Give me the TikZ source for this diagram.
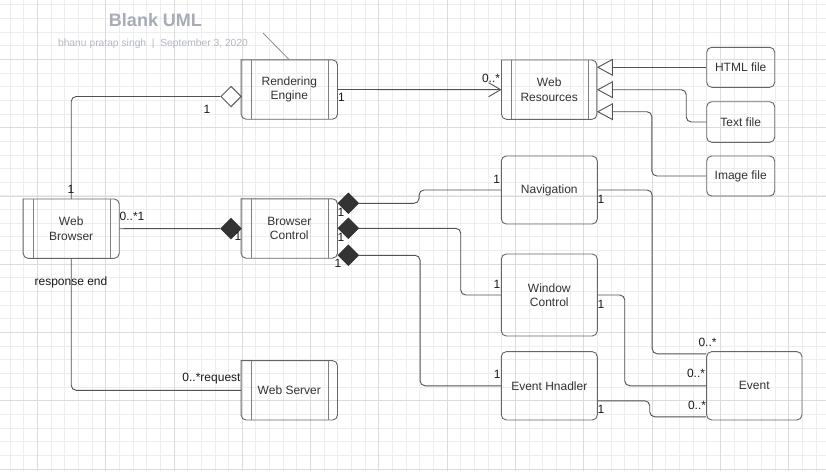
\documentclass[tikz,border=0pt]{standalone}
\usepackage{fontspec}
\setmainfont{Liberation Sans}
\usepackage{xcolor}
\usetikzlibrary{shapes.geometric,arrows.meta}
\definecolor{titlegray}{HTML}{A7ACB7}
\definecolor{subgray}{HTML}{B3B8C1}

\begin{document}
\begin{tikzpicture}[x=1pt,y=-1pt]
        \tikzset{gridminor/.style={draw=black!7,line width=0.8pt},
            gridmajor/.style={draw=black!14,line width=0.8pt},
            cls/.style={minimum width=96pt,minimum height=59pt,inner sep=0pt,align=center,
                text=black!80,font=\fontsize{12}{14.4}\selectfont},
            plain/.style={cls,draw=black!60,line width=0.9pt,rounded corners=5pt},
            conn/.style={draw=black!68,line width=0.9pt,rounded corners=5pt},
            agg/.style={diamond,draw=black!65,line width=0.9pt,fill=white,
                minimum width=20.6pt,minimum height=20.6pt,inner sep=0pt},
            comp/.style={agg,fill=black!80,draw=black!80},
            gen/.style={conn,-{Triangle[open,length=16pt,width=17pt]}},
            lbl/.style={inner sep=0pt,text=black!90,font=\fontsize{12}{14.4}\selectfont}}
        \useasboundingbox[fill=white] (0,0) rectangle (826,471);
        \foreach \i in {0,...,60} \draw[gridminor] ({10+13.66*\i},0) -- ++(0,471);
        \foreach \j in {0,...,34} \draw[gridminor] (0,{4.65+13.66*\j}) -- ++(826,0);
        \foreach \i in {0,...,11} \draw[gridmajor] ({37.3+68.3*\i},0) -- ++(0,471);
        \foreach \j in {0,...,6} \draw[gridmajor] (0,{59.3+68.3*\j}) -- ++(826,0);

        \node[font=\bfseries\fontsize{18}{20}\selectfont,text=titlegray] (title) at (155.5,20) {Blank UML};
        \node[font=\fontsize{10.3}{12}\selectfont,text=subgray] (sub) at (153,44) {bhanu pratap singh\ \ |\ \ September 3, 2020};
        \coordinate (tick) at (263,33);

        \node[cls] (re) at (289.3,89.5) {Rendering\\Engine};
        \node[cls,minimum width=95pt] (wr) at (549.2,89.7) {Web\\Resources};
        \node[cls,minimum width=95.7pt] (wb) at (71.2,228.7) {Web\\Browser};
        \node[cls] (bc) at (289.3,228.5) {Browser\\Control};
        \node[cls] (ws) at (289.3,390.3) {Web Server};
        \foreach \n in {re,wr,wb,bc,ws}{
            \draw[draw=black!60,line width=0.9pt,line cap=rect,rounded corners=5pt]
                (\n.north west) -- (\n.north east) -- (\n.south east) -- (\n.south west) -- (\n.north west);
            \draw[draw=black!50,line width=0.8pt] ([xshift=10pt]\n.north west) -- ([xshift=10pt]\n.south west)
                ([xshift=-9pt]\n.north east) -- ([xshift=-9pt]\n.south east);
        }

        \node[plain,minimum width=68pt,minimum height=40pt] (html) at (740.7,67.3) {HTML file};
        \node[plain,minimum width=68pt,minimum height=40.6pt] (txt) at (740.7,122) {Text file};
        \node[plain,minimum width=68pt,minimum height=40pt] (img) at (740.7,176) {Image file};
        \node[plain,minimum height=68pt] (nav) at (549.3,190) {Navigation};
        \node[plain,minimum height=82pt] (wc) at (549.3,295) {Window\\Control};
        \node[plain,minimum height=68.3pt] (eh) at (549.3,385.8) {Event Hnadler};
        \node[plain,minimum width=95.3pt,minimum height=68.3pt] (ev) at (754.3,385.8) {Event};

        \node[agg] (dr) at (231,96.5) {};
        \node[comp] (db) at (231,228.6) {};
        \node[comp] (dn) at (348.3,203.3) {};
        \node[comp] (dw) at (348.3,228.3) {};
        \node[comp] (de) at (348.3,255.3) {};

        \draw[draw=black!45,line width=0.8pt] (tick) -- (re.north);
        \draw[conn] (wb.north) |- (dr.west);
        \draw[conn] (wb.east) -- (db.west);
        \draw[conn] (wb.south) |- (ws.west);
        \draw[conn,-{Straight Barb[length=12pt,width=14pt]}] (re.east) -- (wr.west);
        \draw[gen] (html.west) -- (wr.east |- html.west);
        \draw[gen] (txt.west) -- ++(-20,0) |- (wr.east);
        \draw[gen] (img.west) -- ++(-54.4,0) |- ([yshift=-22pt]wr.east);
        \draw[conn] (dn.east) -- ++(60,0) |- (nav.west);
        \draw[conn] (dw.east) -- ++(101.7,0) |- (wc.west);
        \draw[conn] (de.east) -- ++(61,0) |- (eh.west);
        \draw[conn] (nav.east) -- ++(54.4,0) |- ([yshift=32pt]ev.west);
        \draw[conn] (wc.east) -- ++(27,0) |- (ev.west);
        \draw[conn] ([yshift=-15pt]eh.east) -- ++(52,0) |- ([yshift=-31pt]ev.west);

        \foreach \n/\x/\y/\t in {m1/207/109/1, m2/71/189.5/1, m3/341.5/97.5/1, m4/491/78/0..*,
            m5/132/216.5/0..*1, m6/238/236.7/1, m7/341/212/1, m8/341/237/1, m9/338/263.3/1,
            m10/496.7/179.3/1, m11/601/199.3/1, m12/497/284/1, m13/601/304/1, m14/497.3/374.3/1,
            m15/601/409.3/1, m16/707.5/342.3/0..*, m17/696/373.7/0..*, m18/697/405.3/0..*,
            m19/71/282.7/response end, m20/211.5/379/0..*request}
            \node[lbl] (\n) at (\x,\y) {\t};
\end{tikzpicture}
\end{document}
